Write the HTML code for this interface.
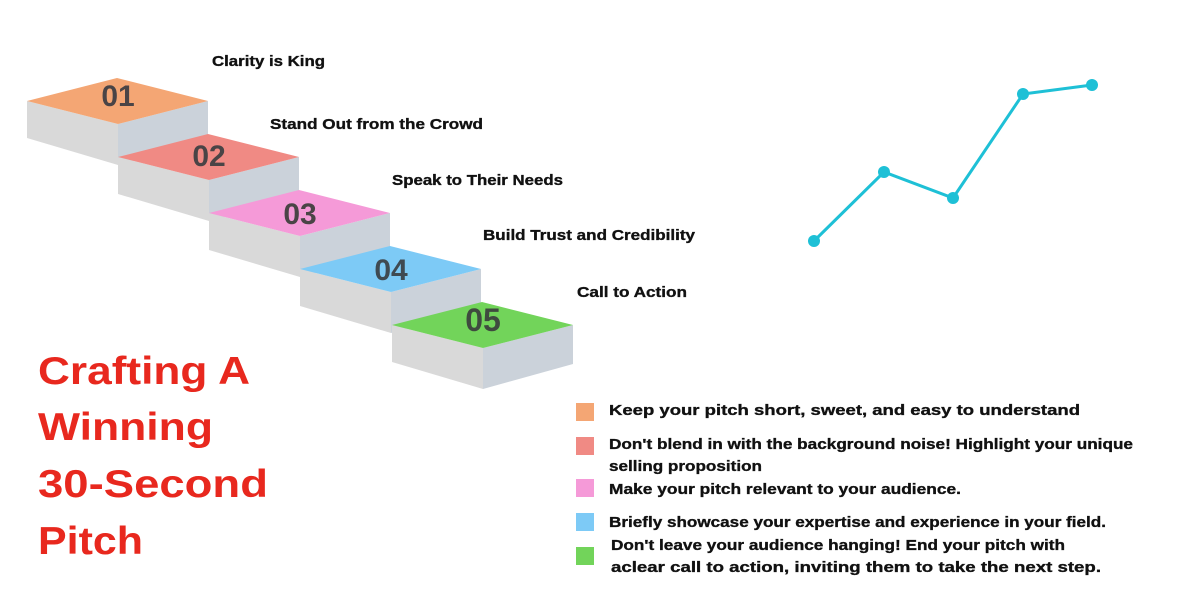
<!DOCTYPE html>
<html><head><meta charset="utf-8"><style>
html,body{margin:0;padding:0;background:#fff;width:1200px;height:600px;overflow:hidden}
svg{display:block}
text{font-family:"Liberation Sans",sans-serif;font-weight:bold}
</style></head><body>
<svg width="1200" height="600" viewBox="0 0 1200 600" xmlns="http://www.w3.org/2000/svg">
<defs>
<g id="step">
<polygon points="0,0 91,23 91,64 0,37" fill="#d9d9d9"/>
<polygon points="91,23 181,0 181,39 91,64" fill="#cbd2da"/>
</g>
</defs>
<g transform="translate(27,101)"><use href="#step"/><polygon points="0,0 90,-23 181,0 91,23" fill="#f4a674"/><text x="91" y="5" font-size="30" fill="#4a4446" text-anchor="middle">01</text></g>
<g transform="translate(118,157)"><use href="#step"/><polygon points="0,0 90,-23 181,0 91,23" fill="#f08a84"/><text x="91" y="9" font-size="30" fill="#4a4446" text-anchor="middle">02</text></g>
<g transform="translate(209,213)"><use href="#step"/><polygon points="0,0 90,-23 181,0 91,23" fill="#f59ad8"/><text x="91" y="11" font-size="30" fill="#4a4446" text-anchor="middle">03</text></g>
<g transform="translate(300,269)"><use href="#step"/><polygon points="0,0 90,-23 181,0 91,23" fill="#7dcaf6"/><text x="91" y="11" font-size="30" fill="#3f4a52" text-anchor="middle">04</text></g>
<g transform="translate(392,325)"><use href="#step"/><polygon points="0,0 90,-23 181,0 91,23" fill="#72d45a"/><text x="91" y="6" font-size="32" fill="#3f4a3f" text-anchor="middle">05</text></g>
<g font-size="15" fill="#111" stroke="#111" stroke-width="0.35">
<text x="212" y="66" textLength="113" lengthAdjust="spacingAndGlyphs">Clarity is King</text>
<text x="270" y="129" textLength="213" lengthAdjust="spacingAndGlyphs">Stand Out from the Crowd</text>
<text x="392" y="185" textLength="171" lengthAdjust="spacingAndGlyphs">Speak to Their Needs</text>
<text x="483" y="240" textLength="212" lengthAdjust="spacingAndGlyphs">Build Trust and Credibility</text>
<text x="577" y="297" textLength="110" lengthAdjust="spacingAndGlyphs">Call to Action</text>
</g>
<g font-size="39" fill="#e8281e">
<text x="38" y="384" textLength="212" lengthAdjust="spacingAndGlyphs">Crafting A</text>
<text x="38" y="440" textLength="175" lengthAdjust="spacingAndGlyphs">Winning</text>
<text x="38" y="497" textLength="230" lengthAdjust="spacingAndGlyphs">30-Second</text>
<text x="38" y="554" textLength="105" lengthAdjust="spacingAndGlyphs">Pitch</text>
</g>
<rect x="576" y="403" width="18" height="18" fill="#f4a674"/>
<rect x="576" y="437" width="18" height="18" fill="#f08a84"/>
<rect x="576" y="479" width="18" height="18" fill="#f59ad8"/>
<rect x="576" y="513" width="18" height="18" fill="#7dcaf6"/>
<rect x="576" y="547" width="18" height="18" fill="#72d45a"/>
<g font-size="15" fill="#111" stroke="#111" stroke-width="0.35">
<text x="609" y="415" textLength="471" lengthAdjust="spacingAndGlyphs">Keep your pitch short, sweet, and easy to understand</text>
<text x="609" y="449" textLength="524" lengthAdjust="spacingAndGlyphs">Don't blend in with the background noise! Highlight your unique</text>
<text x="609" y="471" textLength="153" lengthAdjust="spacingAndGlyphs">selling proposition</text>
<text x="609" y="494" textLength="352" lengthAdjust="spacingAndGlyphs">Make your pitch relevant to your audience.</text>
<text x="609" y="527" textLength="497" lengthAdjust="spacingAndGlyphs">Briefly showcase your expertise and experience in your field.</text>
<text x="611" y="550" textLength="454" lengthAdjust="spacingAndGlyphs">Don't leave your audience hanging! End your pitch with</text>
<text x="611" y="572" textLength="490" lengthAdjust="spacingAndGlyphs">aclear call to action, inviting them to take the next step.</text>
</g>
<polyline points="814,241 884,172 953,198 1023,94 1092,85" fill="none" stroke="#1ec0d6" stroke-width="3"/>
<g fill="#1ec0d6">
<circle cx="814" cy="241" r="6"/><circle cx="884" cy="172" r="6"/><circle cx="953" cy="198" r="6"/><circle cx="1023" cy="94" r="6"/><circle cx="1092" cy="85" r="6"/>
</g>
</svg>
</body></html>
